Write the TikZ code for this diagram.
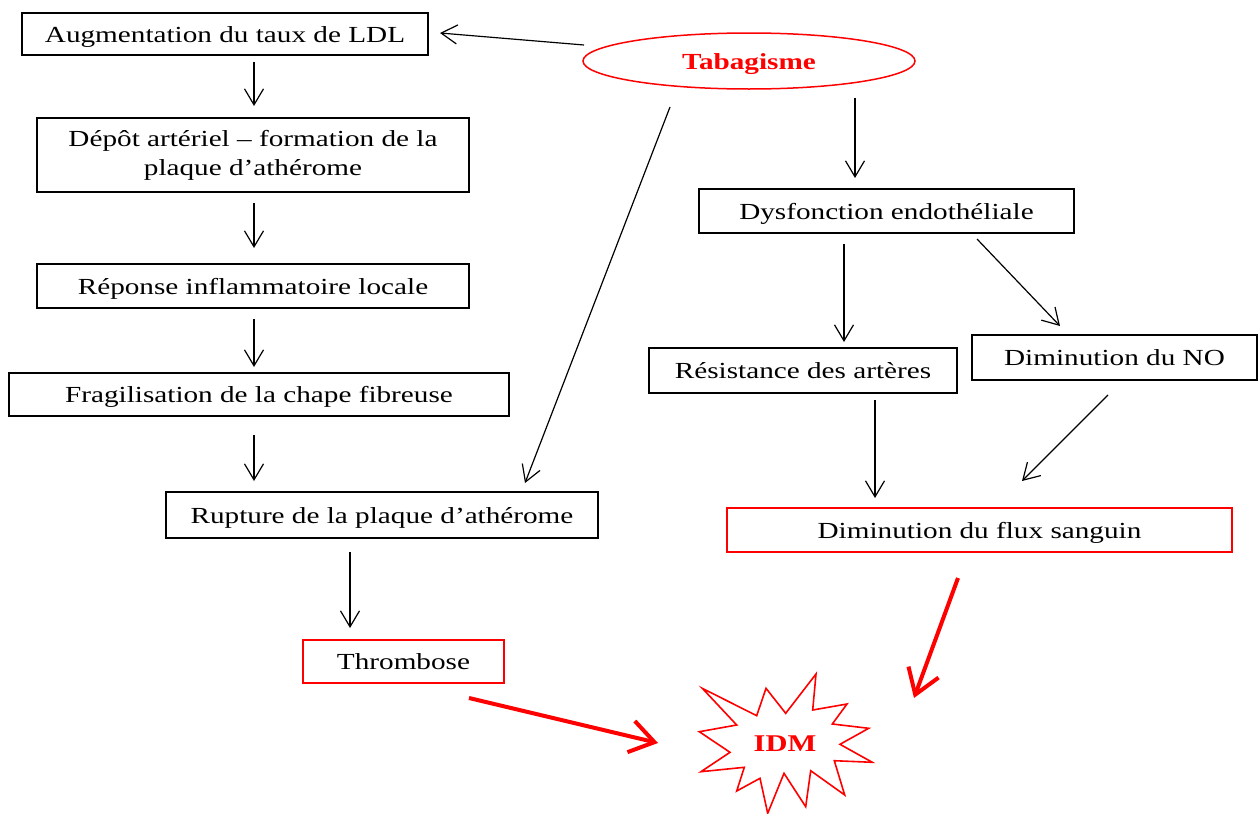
\documentclass[tikz,border=0pt]{standalone}
\usepackage{fontspec}
\setmainfont{Liberation Serif}[FakeStretch=1.27]
\usetikzlibrary{arrows.meta,shapes.geometric}
\definecolor{myred}{RGB}{255,0,0}
\tikzset{
  box/.style={draw=black,line width=1.3pt,inner sep=0pt,align=center,font=\fontsize{23}{29}\selectfont},
  oneline/.style={text height=18pt,text depth=2pt},
  redbox/.style={box,oneline,draw=myred},
  arr/.style={line width=1.2pt,-{Straight Barb[length=16pt,width=19pt,line width=1.2pt]}},
  redarr/.style={line width=4pt,draw=myred,-{Straight Barb[length=24pt,width=32pt,line width=4pt]}}
}
\begin{document}
\begin{tikzpicture}[x=1pt,y=-1pt]
\useasboundingbox (0,0) rectangle (1259,814);
% boxes
\node[box,oneline,minimum width=406pt,minimum height=42pt] (ldl) at (225,34) {Augmentation du taux de LDL};
\node[box,minimum width=432pt,minimum height=74pt] (depot) at (253,155) {Dépôt artériel -- formation de la\\plaque d’athérome};
\node[box,oneline,minimum width=432pt,minimum height=44pt] (rep) at (253,286) {Réponse inflammatoire locale};
\node[box,oneline,minimum width=500pt,minimum height=43pt] (frag) at (259,394.5) {Fragilisation de la chape fibreuse};
\node[box,oneline,minimum width=432pt,minimum height=46pt] (rupt) at (382,515) {Rupture de la plaque d’athérome};
\node[redbox,minimum width=201pt,minimum height=43pt] (thromb) at (403.5,661.5) {Thrombose};
\node[ellipse,draw=myred,line width=1.5pt,minimum width=332pt,minimum height=56pt,inner sep=0pt,text=myred,oneline,font=\fontsize{23}{29}\selectfont\bfseries] (tab) at (749,61) {Tabagisme};
\node[box,oneline,minimum width=375pt,minimum height=44pt] (dysf) at (886.5,211) {Dysfonction endothéliale};
\node[box,oneline,minimum width=308pt,minimum height=45pt] (resist) at (803,370.5) {Résistance des artères};
\node[box,oneline,minimum width=285pt,minimum height=45pt] (no) at (1114.5,357.5) {Diminution du NO};
\node[redbox,minimum width=505pt,minimum height=44pt] (flux) at (979.5,530) {Diminution du flux sanguin};
% star
\draw[myred,line width=1.6pt,line join=miter] (702.3,688.3) -- (756.7,715.7) -- (766,688.3) -- (785.7,713.3) -- (816,674) -- (812.7,710) -- (847,704) -- (832.3,724) -- (868.7,728.3) -- (840,744.3) -- (872.3,762.3) -- (834.3,760.7) -- (844.7,795) -- (810.7,770.7) -- (805.7,806.7) -- (784,773.3) -- (767.7,813.3) -- (760,778.3) -- (736.7,791) -- (744.3,767.3) -- (701,771.7) -- (730,752.3) -- (699.3,731.7) -- (736.7,725) -- cycle;
\node[text=myred,font=\fontsize{24}{29}\selectfont\bfseries] (idm) at (785,744) {IDM};
% arrow end points
\coordinate (a1s) at (584,45);  \coordinate (a1e) at (440,33);
\coordinate (a2s) at (254,62);  \coordinate (a2e) at (254,106);
\coordinate (a3s) at (254,203); \coordinate (a3e) at (254,248);
\coordinate (a4s) at (254,319); \coordinate (a4e) at (254,367);
\coordinate (a5s) at (254,435); \coordinate (a5e) at (254,481);
\coordinate (a6s) at (350,552); \coordinate (a6e) at (350,628);
\coordinate (a7s) at (670,107); \coordinate (a7e) at (525,483);
\coordinate (a8s) at (855,98);  \coordinate (a8e) at (855,178);
\coordinate (a9s) at (844,244); \coordinate (a9e) at (844,342);
\coordinate (a10s) at (977,239); \coordinate (a10e) at (1060,326);
\coordinate (a11s) at (875,400); \coordinate (a11e) at (875,498);
\coordinate (a12s) at (1108,395); \coordinate (a12e) at (1022,481);
\coordinate (r1s) at (469,698); \coordinate (r1e) at (658,743);
\coordinate (r2s) at (958,578); \coordinate (r2e) at (914,698);
% connectors
\draw[arr] (a1s) -- (a1e);
\draw[arr] (a2s) -- (a2e);
\draw[arr] (a3s) -- (a3e);
\draw[arr] (a4s) -- (a4e);
\draw[arr] (a5s) -- (a5e);
\draw[arr] (a6s) -- (a6e);
\draw[arr] (a7s) -- (a7e);
\draw[arr] (a8s) -- (a8e);
\draw[arr] (a9s) -- (a9e);
\draw[arr] (a10s) -- (a10e);
\draw[arr] (a11s) -- (a11e);
\draw[arr] (a12s) -- (a12e);
\draw[redarr] (r1s) -- (r1e);
\draw[redarr] (r2s) -- (r2e);
\end{tikzpicture}
\end{document}
